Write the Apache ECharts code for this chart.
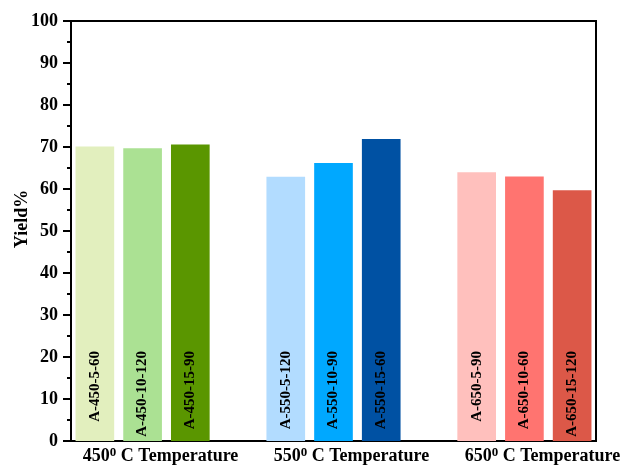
<!DOCTYPE html>
<html>
<head>
<meta charset="utf-8">
<script src="https://cdn.jsdelivr.net/npm/echarts@6/dist/echarts.min.js"></script>
<style>html,body{margin:0;padding:0;background:#fff}#c{width:622px;height:468px}</style>
</head>
<body>
<div id="c"></div>
<script>
// Samples (null = gap slot between temperature groups)
var sampleNames = ['A-450-5-60','A-450-10-120','A-450-15-90', null,
                   'A-550-5-120','A-550-10-90','A-550-15-60', null,
                   'A-650-5-90','A-650-10-60','A-650-15-120'];
var yieldValues = [70.1, 69.7, 70.6, null, 62.9, 66.2, 71.9, null, 64.0, 63.0, 59.7];
var barColors = ['#E2EFBE','#ABE193','#5A9600', null,
                 '#B2DCFF','#00A8FF','#0051A3', null,
                 '#FFC0BD','#FF7470','#DC5848'];
var groupLabels = ['450', '550', '650'];   // shown under slots 1, 5, 9
var groupSlots = [1, 5, 9];
var yTicks = [0,10,20,30,40,50,60,70,80,90,100];

var font = '"Liberation Serif","Times New Roman",serif';
var cats = sampleNames.map(function (n, i) { return 'c' + i; });
var labelForSlot = {};
groupSlots.forEach(function (s, k) { labelForSlot['c' + s] = groupLabels[k]; });

var data = yieldValues.map(function (v, i) {
  if (v === null) return '-';
  return { value: v, name: sampleNames[i], itemStyle: { color: barColors[i] } };
});

var chart = echarts.init(document.getElementById('c'));
chart.setOption({
  backgroundColor: '#fff',
  animation: false,
  grid: { left: 71, right: 26, top: 21, bottom: 27, containLabel: false, outerBoundsMode: 'none',
          show: true, borderColor: '#000', borderWidth: 2, backgroundColor: 'transparent' },
  xAxis: {
    type: 'category',
    data: cats,
    boundaryGap: true,
    axisLine: { lineStyle: { color: '#000', width: 2 } },
    axisTick: { show: false },
    axisLabel: {
      interval: 0,
      margin: 5,
      padding: [0, 0, 0, 36],
      formatter: function (v) {
        var t = labelForSlot[v];
        if (!t) return '';
        return '{n|' + t + '}{s|0}{n| C Temperature}';
      },
      rich: {
        n: { fontFamily: font, fontWeight: 'bold', fontSize: 18, color: '#000', lineHeight: 21 },
        s: { fontFamily: font, fontWeight: 'bold', fontSize: 13, color: '#000', lineHeight: 13, verticalAlign: 'top', padding: [0, 0, 9, 0] }
      }
    }
  },
  yAxis: {
    type: 'value',
    min: yTicks[0],
    max: yTicks[yTicks.length - 1],
    interval: 10,
    name: 'Yield%',
    nameLocation: 'middle',
    nameGap: 40,
    nameMoveOverlap: false,
    nameTextStyle: { fontFamily: font, fontWeight: 'bold', fontSize: 18, color: '#000', padding: [0, 0, 0, 24] },
    axisLine: { show: true, lineStyle: { color: '#000', width: 2 } },
    axisTick: { show: true, length: 8, lineStyle: { color: '#000', width: 2 } },
    minorTick: { show: true, splitNumber: 2, length: 4, lineStyle: { color: '#000', width: 2 } },
    splitLine: { show: false },
    axisLabel: { margin: 13, fontFamily: font, fontWeight: 'bold', fontSize: 18, color: '#000' }
  },
  series: [{
    type: 'bar',
    data: data,
    barWidth: '81%',
    label: {
      show: true,
      position: 'insideBottom',
      distance: 90,
      rotate: 90,
      align: 'right',
      verticalAlign: 'middle',
      formatter: function (p) { return p.name; },
      fontFamily: font,
      fontWeight: 'bold',
      fontSize: 15,
      color: '#000'
    }
  }]
});
</script>
</body>
</html>
